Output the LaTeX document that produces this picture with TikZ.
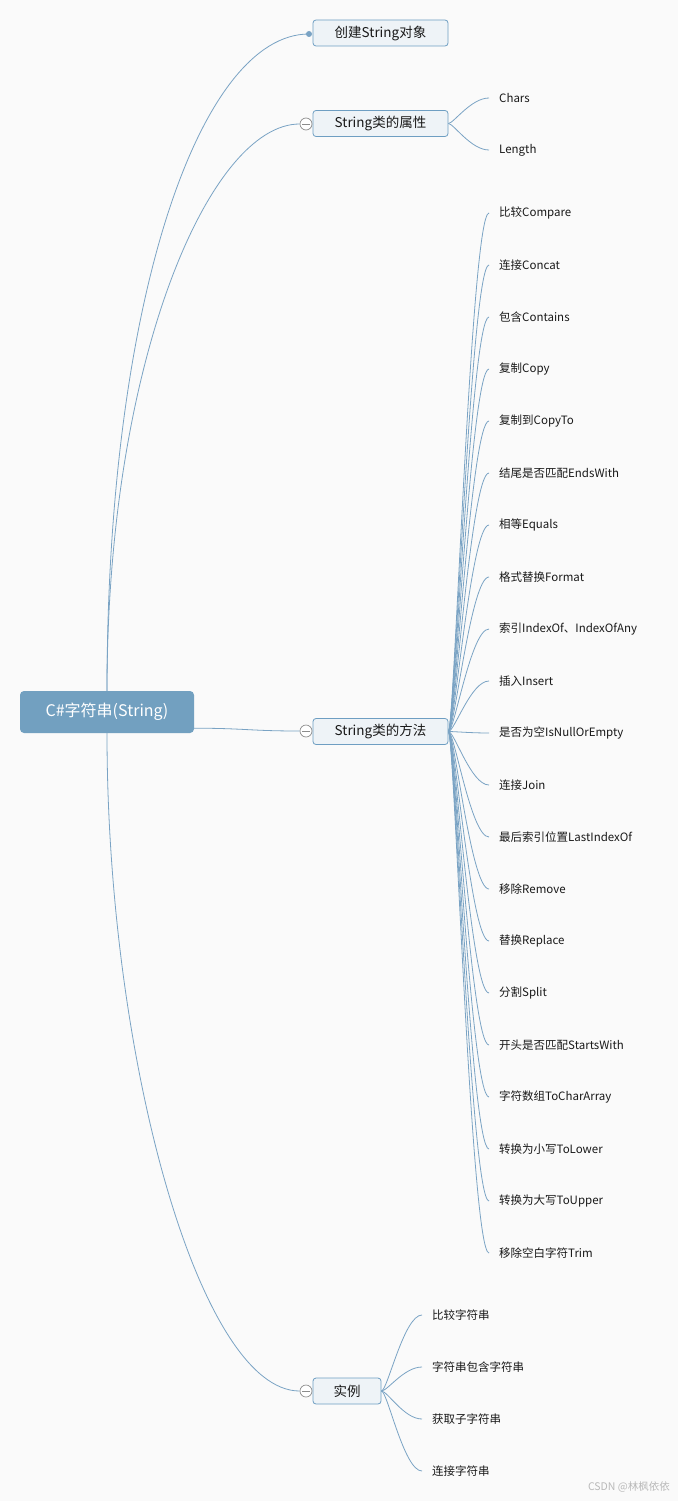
\documentclass[tikz,border=0pt]{standalone}
\usepackage{fontspec}
\setmainfont{Noto Sans CJK SC}
\usetikzlibrary{calc}
\definecolor{bgcol}{RGB}{250,250,250}
\definecolor{rootblue}{RGB}{114,160,192}
\definecolor{topicfill}{RGB}{238,243,247}
\definecolor{topicborder}{RGB}{110,158,194}
\definecolor{linecol}{RGB}{122,163,196}
\definecolor{markgray}{RGB}{140,140,140}
\definecolor{txt}{RGB}{25,25,25}
\definecolor{wmark}{RGB}{185,185,185}
\tikzset{
  rootbox/.style={rounded corners=4pt, fill=rootblue, text=white, inner sep=0pt,
    minimum width=174pt, minimum height=42pt, font=\fontsize{16}{19}\selectfont},
  topicbox/.style={rounded corners=3pt, fill=topicfill, draw=topicborder, line width=0.8pt,
    inner sep=0pt, minimum height=26pt, text=txt, font=\fontsize{13.5}{16}\selectfont},
  leafnode/.style={anchor=west, inner xsep=10pt, inner ysep=0pt, text=txt,
    font=\fontsize{11.5}{14}\selectfont},
  conn/.style={draw=linecol, line width=0.8pt},
  collapsemark/.style={circle, draw=markgray, fill=white, line width=0.7pt,
    minimum size=12pt, inner sep=0pt,
    path picture={\draw[markgray, line width=0.7pt] ([xshift=-4pt]path picture bounding box.center) -- ([xshift=4pt]path picture bounding box.center);}},
  dotmark/.style={circle, fill=linecol, minimum size=6pt, inner sep=0pt},
}
\begin{document}
\begin{tikzpicture}[x=1pt, y=-1pt]
\useasboundingbox (0,0) rectangle (678,1501);
\fill[bgcol] (0,0) rectangle (678,1501);

% root
\node[rootbox] (root) at (107,712) {\raisebox{-1pt}{C\#字符串(String)}};
\coordinate (rootout) at ($(root.south east)+(0,-5)$);

% level 2
\node[topicbox, minimum width=135pt] (create) at (380.5,33) {\raisebox{-1pt}{创建String对象}};
\node[topicbox, minimum width=135pt] (prop) at (380.5,123.5) {\raisebox{-1pt}{String类的属性}};
\node[topicbox, minimum width=135pt] (meth) at (380.5,731.5) {\raisebox{-1pt}{String类的方法}};
\node[topicbox, minimum width=68pt] (ex) at (347,1391) {\raisebox{-1pt}{实例}};

\node[dotmark] (cdot) at (309,34) {};
\node[collapsemark] (cprop) at (306,124) {};
\node[collapsemark] (cmeth) at (306,731) {};
\node[collapsemark] (cex) at (306,1391) {};

% main connectors
\draw[conn] (root.north) .. controls (107,300) and (200,34) .. (cdot.center);
\draw[conn] (root.north) .. controls (107,360) and (210,124) .. (cprop.west);
\draw[conn] (rootout) .. controls +(50,0) and +(-50,0) .. (cmeth.west);
\draw[conn] (root.south) .. controls (107,1060) and (200,1391) .. (cex.west);

% property leaves
\node[leafnode] (p1) at (489,98) {Chars};
\node[leafnode] (p2) at (489,150) {Length};
\foreach \n in {p1,p2}
  \draw[conn] (prop.east) .. controls +(5,0) and +(-18,0) .. (\n.west);

% method leaves
\foreach \i/\t in {1/比较Compare, 2/连接Concat, 3/包含Contains, 4/复制Copy,
  5/复制到CopyTo, 6/结尾是否匹配EndsWith, 7/相等Equals, 8/格式替换Format,
  9/索引IndexOf、IndexOfAny, 10/插入Insert, 11/是否为空IsNullOrEmpty, 12/连接Join,
  13/最后索引位置LastIndexOf, 14/移除Remove, 15/替换Replace, 16/分割Split,
  17/开头是否匹配StartsWith, 18/字符数组ToCharArray, 19/转换为小写ToLower,
  20/转换为大写ToUpper, 21/移除空白字符Trim} {
  \node[leafnode] (m\i) at (489,{161+52*\i}) {\t};
  \draw[conn] (meth.east) .. controls +(6,0) and +(-18,0) .. (m\i.west);
}

% example leaves
\foreach \i/\t in {1/比较字符串, 2/字符串包含字符串, 3/获取子字符串, 4/连接字符串} {
  \node[leafnode] (e\i) at (422,{1263+52*\i}) {\t};
  \draw[conn] (ex.east) .. controls +(6,0) and +(-18,0) .. (e\i.west);
}

% watermark
\node[anchor=east, text=wmark, inner sep=0pt, font=\fontsize{10.5}{12}\selectfont] (wm) at (670,1487) {CSDN @林枫依依};
\end{tikzpicture}
\end{document}
